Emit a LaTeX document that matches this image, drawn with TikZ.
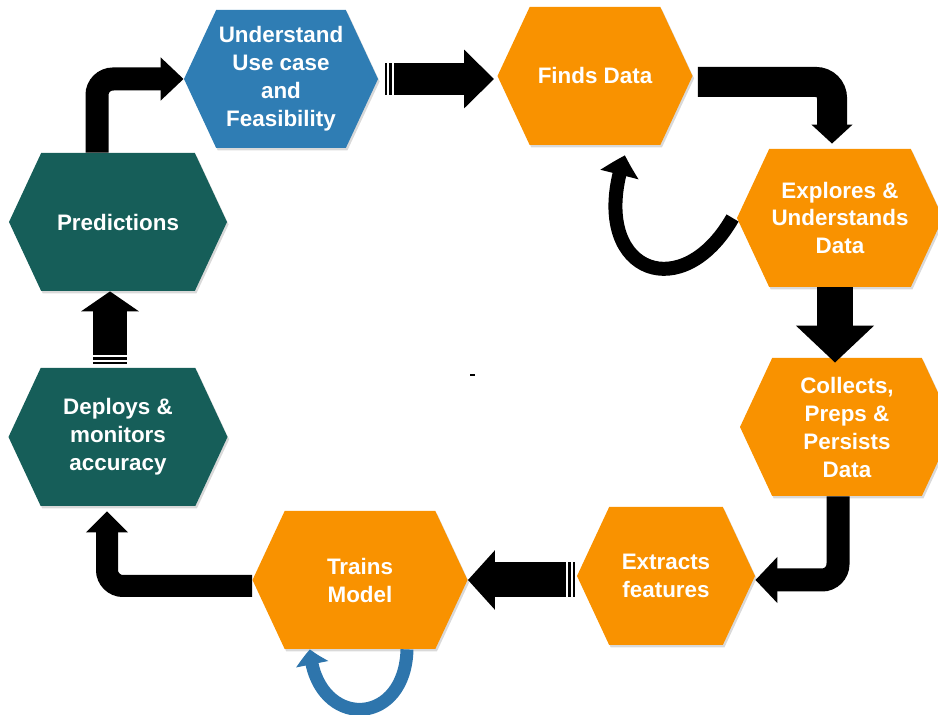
\documentclass[tikz,border=0pt]{standalone}
\usepackage{fontspec}
\setmainfont{Liberation Sans}
\usetikzlibrary{shapes.symbols,arrows.meta,bending,shadows}
\definecolor{hexorange}{RGB}{249,146,0}
\definecolor{hexteal}{RGB}{22,94,89}
\definecolor{hexblue}{RGB}{47,125,180}
\definecolor{loopblue}{RGB}{46,117,172}

\begin{document}
\begin{tikzpicture}[x=.5pt,y=-.5pt,
  hex/.style={signal,signal to=east and west,signal pointer angle=130,
    minimum height=69pt,inner sep=0pt,text=white,align=center,
    font=\fontsize{11.2}{14}\selectfont\bfseries,
    drop shadow={shadow xshift=.8pt,shadow yshift=-1.2pt,opacity=.3}},
  blk/.style={draw=black,rounded corners=8pt},
  stripes/.style={postaction={draw=white,-,line width=#1,rounded corners=0pt,
    dash pattern=on 0pt off 1pt on 1pt off 1.5pt on 1pt off 400pt}}]
  \useasboundingbox (0,0) rectangle (938,715);

  \node[hex,fill=hexblue,minimum width=97pt]    (und)    at (281,79)  {Understand\\Use case\\and\\Feasibility};
  \node[hex,fill=hexorange,minimum width=97.5pt] (finds)  at (595,76)  {Finds Data};
  \node[hex,fill=hexorange,minimum width=103pt]  (expl)   at (840,218) {Explores \&\\Understands\\Data};
  \node[hex,fill=hexorange,minimum width=107pt]  (coll)   at (847,427) {Collects,\\Preps \&\\Persists\\Data};
  \node[hex,fill=hexorange,minimum width=89pt]   (extr)   at (666,576) {Extracts\\features};
  \node[hex,fill=hexorange,minimum width=107.5pt](trains) at (360,580) {Trains\\Model};
  \node[hex,fill=hexteal,minimum width=109.5pt]  (depl)   at (118,437) {Deploys \&\\monitors\\accuracy};
  \node[hex,fill=hexteal,minimum width=109pt]    (pred)   at (118,222) {Predictions};

  \draw [blk, line width=11.5pt, -{Triangle[width=21pt,length=11.5pt]}] ([xshift=-10.5pt]pred.north) |- (und.west);
  \draw [blk, line width=16pt, -{Triangle[width=28.5pt,length=15pt]}, stripes=17pt, shorten >=1.5pt]
        ([xshift=3.5pt]und.east) -- (und.east -| finds.west);
  \draw [blk, line width=15pt, -{Triangle[width=20pt,length=9.5pt]}, shorten <=2.5pt, shorten >=2.5pt]
        ([yshift=-3pt]finds.east) -| ([xshift=-4pt]expl.north);
  \draw [black, line width=7pt, -{Triangle[width=19pt,length=10pt,bend]}]
        ([xshift=-2pt]expl.west) .. controls (680,310) and (585,270) .. ([xshift=15pt,yshift=-5pt]finds.south);
  \draw [black, line width=18pt, -{Triangle[width=38pt,length=18.5pt]}, shorten >=-2.5pt]
        ([xshift=-2.5pt]expl.south) -- ([xshift=-2.5pt]expl.south |- coll.north);
  \draw [blk, line width=11.5pt, -{Triangle[width=22.5pt,length=11pt]}] ([xshift=-4.5pt]coll.south) |- ([yshift=-2pt]extr.east);
  \draw [blk, line width=17.5pt, -{Triangle[width=29pt,length=13.5pt]}, stripes=18.5pt]
        ([xshift=-1pt,yshift=-2pt]extr.west) -- ([yshift=-2pt]extr.west -| trains.east);
  \draw [blk, line width=11pt, -{Triangle[width=20.5pt,length=10.5pt]}, shorten >=2.5pt]
        ([yshift=-3pt]trains.west) -| ([xshift=-5.5pt]depl.south);
  \draw [black, line width=17pt, -{Triangle[width=28.5pt,length=10pt]}, stripes=18pt]
        ([xshift=-4pt,yshift=2pt]depl.north) -- ([xshift=-4pt]depl.north |- pred.south);
  \draw [loopblue, line width=6.5pt, -{Triangle[width=16pt,length=7.5pt,bend]}]
        ([xshift=23.5pt]trains.south) .. controls +(-2,80) and +(5,80) .. ([xshift=-25pt]trains.south);

  \draw [black, line width=.6pt] (470,375) -- (475,375);
\end{tikzpicture}
\end{document}
